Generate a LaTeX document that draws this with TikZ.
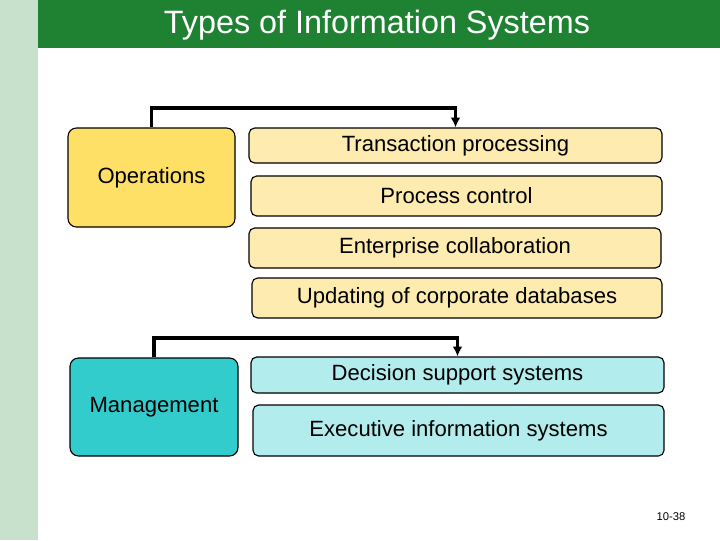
\documentclass[tikz,border=0pt]{standalone}
\usepackage{fontspec}
\setmainfont{Liberation Sans}
\usetikzlibrary{arrows.meta}
\definecolor{titlegreen}{RGB}{30,130,50}
\definecolor{opsfill}{RGB}{255,224,102}
\definecolor{opslight}{RGB}{253,235,176}
\definecolor{mgmtfill}{RGB}{51,204,204}
\definecolor{mgmtlight}{RGB}{179,236,236}
\definecolor{stripcol}{RGB}{200,225,205}
\begin{document}
\begin{tikzpicture}[x=0.025cm,y=-0.025cm,
    every node/.style={font=\fontsize{15.7}{18}\selectfont},
    bigbox/.style={draw,thick,rounded corners=6pt,inner sep=0pt},
    sysbox/.style={draw,thick,rounded corners=4pt,inner sep=0pt},
    link/.style={line width=2.8pt,-{Latex[length=7pt,width=7pt]}}]
    \useasboundingbox (0,0) rectangle (720,540);
    \fill[white] (0,0) rectangle (720,540);
    \fill[stripcol] (0,0) rectangle (38,540);
    \fill[titlegreen] (38,0) rectangle (720,48);
    \node[text=white,font=\fontsize{23}{27}\selectfont] (title) at (377,25) {Types of Information Systems};

    % operations group
    \node[bigbox,fill=opsfill,minimum width=167*0.025cm,minimum height=99*0.025cm] (ops) at (151.5,177.5) {Operations};
    \node[sysbox,fill=opslight,minimum width=413*0.025cm,minimum height=35*0.025cm] (tps) at (455.5,145.5) {Transaction processing};
    \node[sysbox,fill=opslight,minimum width=411*0.025cm,minimum height=40*0.025cm] (pc) at (456.5,196) {Process control};
    \node[sysbox,fill=opslight,minimum width=412*0.025cm,minimum height=40*0.025cm] (ec) at (455,248) {Enterprise collaboration};
    \node[sysbox,fill=opslight,minimum width=410*0.025cm,minimum height=40*0.025cm] (ud) at (457,298) {Updating of corporate databases};
    \draw[link] (ops.north) |- (300,108) -| (tps.north);

    % management group
    \node[bigbox,fill=mgmtfill,minimum width=168*0.025cm,minimum height=98*0.025cm] (mgmt) at (154,407) {Management};
    \node[sysbox,fill=mgmtlight,minimum width=413*0.025cm,minimum height=36*0.025cm] (dss) at (457.5,375) {Decision support systems};
    \node[sysbox,fill=mgmtlight,minimum width=411*0.025cm,minimum height=51*0.025cm] (eis) at (458.5,430.5) {Executive information systems};
    \draw[link] (mgmt.north) |- (300,338) -| (dss.north);

    \node[font=\fontsize{8}{10}\selectfont] (page) at (671,517) {10-38};
\end{tikzpicture}
\end{document}
